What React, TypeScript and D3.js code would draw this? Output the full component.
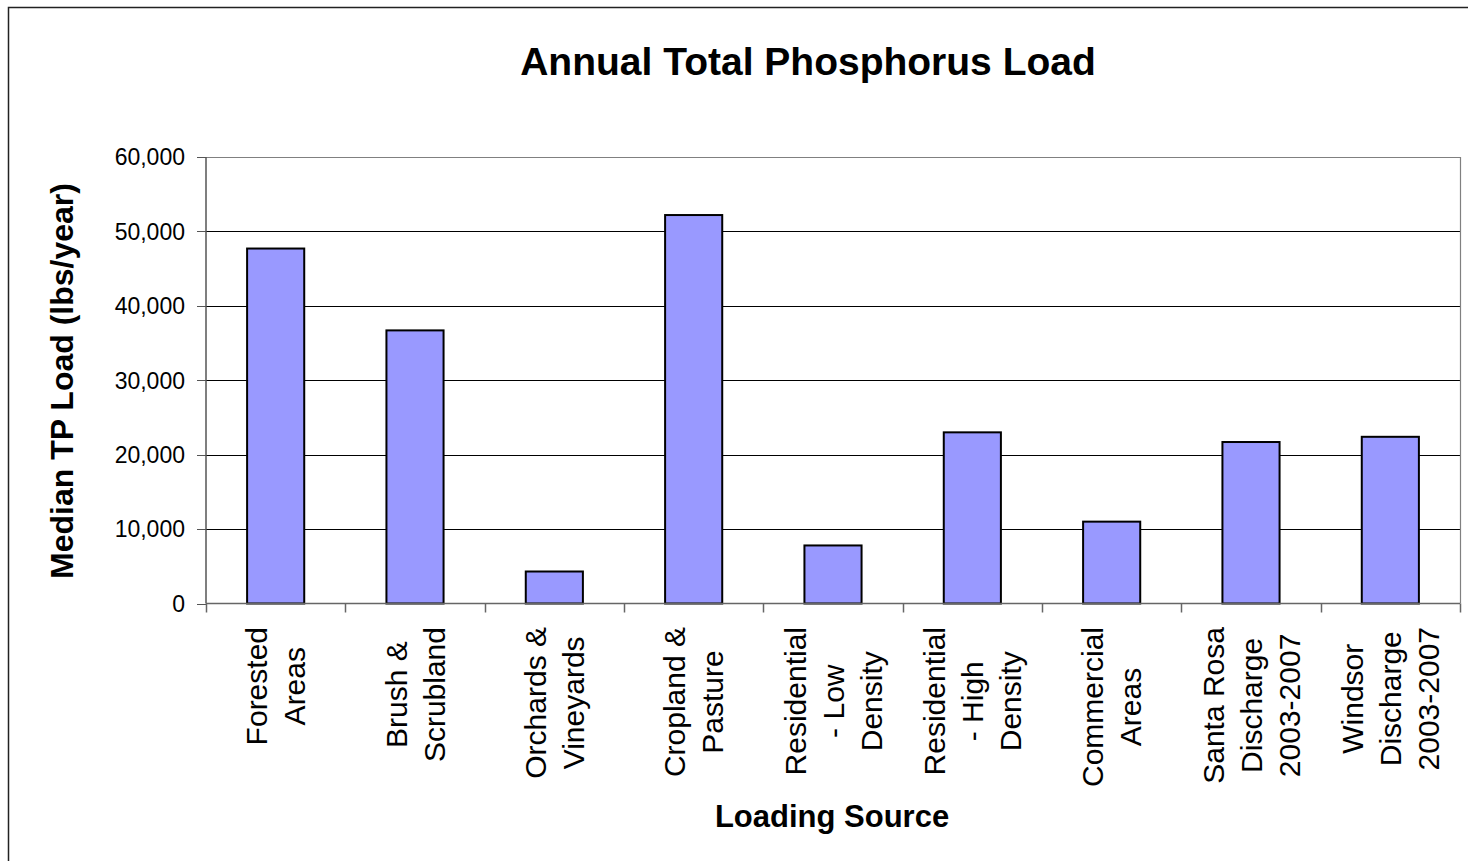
import { useEffect, useRef } from "react";
import * as d3 from "d3";

// 発生源 (行ごとに改行)
const CATEGORIES: string[][] = [
  ["Forested", "Areas"],
  ["Brush &", "Scrubland"],
  ["Orchards &", "Vineyards"],
  ["Cropland &", "Pasture"],
  ["Residential", "- Low", "Density"],
  ["Residential", "- High", "Density"],
  ["Commercial", "Areas"],
  ["Santa Rosa", "Discharge", "2003-2007"],
  ["Windsor", "Discharge", "2003-2007"],
];

// Median TP load (lbs/year)
const VALUES = [47700, 36700, 4300, 52200, 7800, 23000, 11000, 21700, 22400];

const Y_TICKS = [0, 10000, 20000, 30000, 40000, 50000, 60000];

const W = 1468;
const H = 861;
const PLOT = { left: 206, right: 1460, top: 157, bottom: 603.5 };
const FONT = "'Liberation Sans', Arial, sans-serif";
const BAR_FILL = "#9999FF";

export default function App() {
  const svgRef = useRef<SVGSVGElement>(null);

  useEffect(() => {
    document.body.style.margin = "0";
    if (!svgRef.current) return;
    const svg = d3.select(svgRef.current);
    svg.selectAll("*").remove();

    // 外枠
    svg.append("rect")
      .attr("x", 8.5).attr("y", 7.5)
      .attr("width", W + 10).attr("height", H + 10)
      .attr("fill", "#fff").attr("stroke", "#222").attr("stroke-width", 1.5);

    const idx = CATEGORIES.map((_, i) => String(i));
    const x = d3.scaleBand<string>()
      .domain(idx)
      .range([PLOT.left, PLOT.right])
      .paddingInner(0.59)
      .paddingOuter(0.295);
    const y = d3.scaleLinear().domain([0, 60000]).range([PLOT.bottom, PLOT.top]);
    const step = x.step();

    // グリッド
    svg.append("g")
      .selectAll("line")
      .data(Y_TICKS.filter((t) => t > 0 && t < 60000))
      .join("line")
      .attr("x1", PLOT.left).attr("x2", PLOT.right)
      .attr("y1", (d) => Math.round(y(d)) + 0.5).attr("y2", (d) => Math.round(y(d)) + 0.5)
      .attr("stroke", "#000").attr("stroke-width", 1);

    // プロット枠 (上・右)
    svg.append("path")
      .attr("d", `M${PLOT.left},${Math.round(y(60000)) + 0.5}H${PLOT.right + 0.5}V${PLOT.bottom}`)
      .attr("fill", "none").attr("stroke", "#808080").attr("stroke-width", 1.2);

    // 棒
    svg.append("g")
      .selectAll("rect")
      .data(VALUES)
      .join("rect")
      .attr("x", (_, i) => x(String(i))!)
      .attr("y", (d) => y(d))
      .attr("width", x.bandwidth())
      .attr("height", (d) => y(0) - y(d))
      .attr("fill", BAR_FILL)
      .attr("stroke", "#000")
      .attr("stroke-width", 2);

    // Y軸
    svg.append("line")
      .attr("x1", PLOT.left).attr("x2", PLOT.left)
      .attr("y1", PLOT.top).attr("y2", PLOT.bottom)
      .attr("stroke", "#555").attr("stroke-width", 1.5);
    const yt = svg.append("g");
    yt.selectAll("line")
      .data(Y_TICKS)
      .join("line")
      .attr("x1", PLOT.left - 9).attr("x2", PLOT.left)
      .attr("y1", (d) => Math.round(y(d)) + 0.5).attr("y2", (d) => Math.round(y(d)) + 0.5)
      .attr("stroke", "#555").attr("stroke-width", 1);
    yt.selectAll("text")
      .data(Y_TICKS)
      .join("text")
      .attr("x", PLOT.left - 21)
      .attr("y", (d) => y(d))
      .attr("dy", "0.36em")
      .attr("text-anchor", "end")
      .attr("font-family", FONT).attr("font-size", 23).attr("fill", "#000")
      .text((d) => d3.format(",")(d));

    // X軸
    svg.append("line")
      .attr("x1", PLOT.left).attr("x2", PLOT.right)
      .attr("y1", PLOT.bottom).attr("y2", PLOT.bottom)
      .attr("stroke", "#666").attr("stroke-width", 1.5);
    const bounds = d3.range(CATEGORIES.length + 1).map((i) => PLOT.left + i * step);
    svg.append("g")
      .selectAll("line")
      .data(bounds)
      .join("line")
      .attr("x1", (d) => Math.round(d) + 0.5).attr("x2", (d) => Math.round(d) + 0.5)
      .attr("y1", PLOT.bottom).attr("y2", PLOT.bottom + 9)
      .attr("stroke", "#666").attr("stroke-width", 1.5);

    // カテゴリラベル (縦書き、中央揃え)
    const LBL_FS = 30;
    const LBL_LH = 38;
    const LBL_TOP = 627;
    CATEGORIES.forEach((lines, i) => {
      const cx = x(String(i))! + x.bandwidth() / 2;
      const g = svg.append("g");
      const texts = lines.map((ln) =>
        g.append("text")
          .attr("font-family", FONT).attr("font-size", LBL_FS).attr("fill", "#000")
          .attr("text-anchor", "middle")
          .text(ln)
      );
      const maxLen = d3.max(texts, (t) => (t.node() as SVGTextElement).getComputedTextLength()) ?? 0;
      const cy = LBL_TOP + maxLen / 2;
      texts.forEach((t, j) => {
        const bx = cx + (j - (lines.length - 1) / 2) * LBL_LH + LBL_FS * 0.36;
        t.attr("transform", `translate(${bx},${cy}) rotate(-90)`);
      });
    });

    // タイトル
    svg.append("text")
      .attr("x", 808).attr("y", 75)
      .attr("text-anchor", "middle")
      .attr("font-family", FONT).attr("font-size", 39).attr("font-weight", "bold")
      .text("Annual Total Phosphorus Load");

    svg.append("text")
      .attr("x", 832).attr("y", 827)
      .attr("text-anchor", "middle")
      .attr("font-family", FONT).attr("font-size", 31).attr("font-weight", "bold")
      .text("Loading Source");

    svg.append("text")
      .attr("transform", `translate(73,381) rotate(-90)`)
      .attr("text-anchor", "middle")
      .attr("font-family", FONT).attr("font-size", 32).attr("font-weight", "bold")
      .text("Median TP Load (lbs/year)");
  }, []);

  return <svg ref={svgRef} width={W} height={H} viewBox={`0 0 ${W} ${H}`} style={{ display: "block" }} />;
}
